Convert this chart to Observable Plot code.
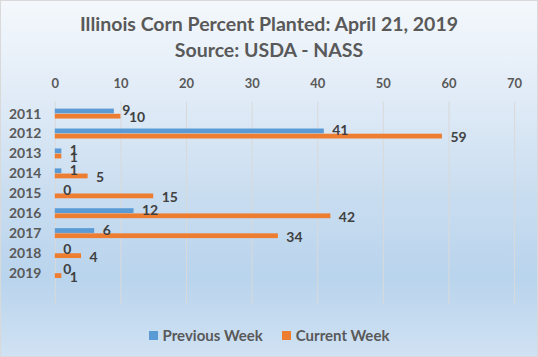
<!DOCTYPE html>
<html><head><meta charset="utf-8">
<script src="https://cdn.jsdelivr.net/npm/d3@7"></script>
<script src="https://cdn.jsdelivr.net/npm/@observablehq/plot@0.6"></script>
<style>
html,body{margin:0;padding:0;background:#fff;}
#chart{position:relative;width:536px;height:355px;border:1px solid #d9d9d9;
  background:linear-gradient(to bottom,#f4f8fc 0%,#e2ecf7 25%,#c9ddf0 55%,#b9d4ed 78%,#c3daef 88%,#d0e2f3 100%);
  font-family:Lato,"Open Sans",sans-serif;overflow:hidden;}
#chart svg{position:absolute;left:-1px;top:-1px;}
#title{position:absolute;top:10px;left:0;right:0;text-align:center;color:#595959;font-weight:bold;font-size:19.5px;line-height:26px;}
#legend{position:absolute;top:325px;left:0;right:0;text-align:center;color:#595959;font-weight:bold;font-size:15px;line-height:18px;white-space:nowrap;}
#legend span.sw{display:inline-block;width:9px;height:9px;margin-right:5px;vertical-align:1px;}
#legend span.item{display:inline-block;}
#legend span.item + span.item{margin-left:19px;}
</style>
</head><body>
<div id="chart">
  <div id="title">Illinois Corn Percent Planted: April 21, 2019<br>Source: USDA - NASS</div>
  <div id="legend"></div>
</div>
<script>
const years = ["2011","2012","2013","2014","2015","2016","2017","2018","2019"];
const previousWeek = [9, 41, 1, 1, 0, 12, 6, 0, 0];
const currentWeek = [10, 59, 1, 5, 15, 42, 34, 4, 1];
const seriesNames = ["Previous Week", "Current Week"];
const seriesColors = ["#5B9BD5", "#ED7D31"];
const xTicks = [0, 10, 20, 30, 40, 50, 60, 70];

const rows = years.map((y, i) => ({year: y, prev: previousWeek[i], curr: currentWeek[i]}));

const W = 538, H = 357;
const mTop = 102, mBottom = 51, mLeft = 55, mRight = 22;
const plotH = H - mTop - mBottom;
const domainY = [...years, ""];
const padInner = 0.49;
const step = plotH / (domainY.length - padInner + 2 * (padInner / 2));
const bw = step * (1 - padInner);
const half = bw / 2;

const chart = Plot.plot({
  width: W, height: H,
  marginTop: mTop, marginBottom: mBottom, marginLeft: mLeft, marginRight: mRight,
  style: {background: "transparent", fontFamily: "Lato, 'Open Sans', sans-serif", overflow: "visible"},
  x: {domain: [0, 70], axis: null},
  y: {domain: domainY, paddingInner: padInner, paddingOuter: padInner / 2, axis: null},
  marks: [
    Plot.gridX(xTicks, {stroke: "#d9d9d9", strokeOpacity: 1, strokeWidth: 1}),
    Plot.axisX(xTicks, {anchor: "top", tickSize: 0, tickPadding: 14, fill: "#595959", fontWeight: "bold", fontSize: 13, label: null}),
    Plot.axisY(years, {anchor: "left", tickSize: 0, tickPadding: 14, fill: "#595959", fontWeight: "bold", fontSize: 14, label: null}),
    Plot.barX(rows, {y: "year", x: "prev", fill: seriesColors[0], insetBottom: half}),
    Plot.barX(rows, {y: "year", x: "curr", fill: seriesColors[1], insetTop: half}),
    Plot.text(rows, {y: "year", x: "prev", text: d => String(d.prev), dx: 8, dy: -half / 2 - 1, textAnchor: "start", fill: "#404040", fontWeight: "bold", fontSize: 14}),
    Plot.text(rows, {y: "year", x: "curr", text: d => String(d.curr), dx: 8, dy: half / 2 + 1, textAnchor: "start", fill: "#404040", fontWeight: "bold", fontSize: 14})
  ]
});
document.getElementById("chart").appendChild(chart);

const legend = document.getElementById("legend");
legend.innerHTML = seriesNames.map((n, i) =>
  `<span class="item"><span class="sw" style="background:${seriesColors[i]}"></span>${n}</span>`).join("");
</script>
</body></html>
